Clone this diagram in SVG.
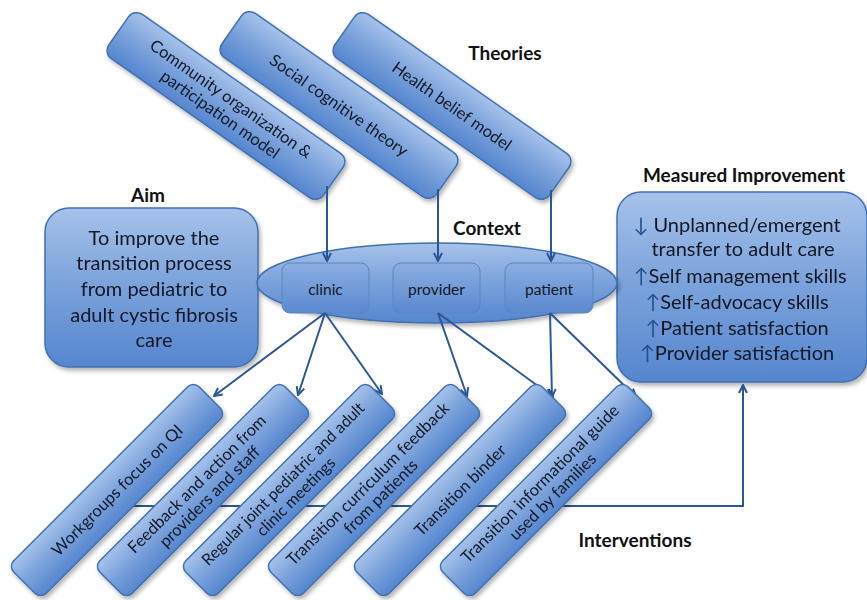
<svg xmlns="http://www.w3.org/2000/svg" width="867" height="600" viewBox="0 0 867 600">
<style>
.box{fill:url(#g);stroke:#4270b0;stroke-width:1.5}
.sub{fill:url(#g2);stroke:#5a86c2;stroke-width:1}
.t{font-family:Lato,"Liberation Sans",sans-serif;fill:#121826;text-anchor:middle}
.h{font-family:Lato,"Liberation Sans",sans-serif;font-weight:bold;fill:#111;text-anchor:middle;font-size:19px}
.c{fill:none;stroke:#2b5797;stroke-width:2}
.ar{fill:#24508e}
</style>
<defs>
<linearGradient id="g" x1="0" y1="0" x2="0" y2="1">
<stop offset="0" stop-color="#a6c2ea"/>
<stop offset="0.5" stop-color="#7aa1db"/>
<stop offset="1" stop-color="#5586cf"/>
</linearGradient>
<linearGradient id="g2" x1="0" y1="0" x2="0" y2="1">
<stop offset="0" stop-color="#8caee2"/>
<stop offset="1" stop-color="#5a89cf"/>
</linearGradient>
<filter id="sh" x="-20%" y="-20%" width="140%" height="140%">
<feDropShadow dx="2" dy="3" stdDeviation="2" flood-color="#000" flood-opacity="0.3"/>
</filter>
<marker id="a" viewBox="0 0 10 10" refX="9" refY="5" markerWidth="5" markerHeight="5" orient="auto">
<path d="M1,1 L9,5 L1,9" fill="none" stroke="#2b5797" stroke-width="2"/>
</marker>
</defs>
<rect width="867" height="600" fill="#fff"/>

<g id="theory-community" filter="url(#sh)">
<g transform="translate(226,106) rotate(35)">
<rect class="box" x="-131" y="-27" width="262" height="54" rx="10"/>
<text class="t" font-size="16.5" y="-3">Community organization &amp;</text>
<text class="t" font-size="16.5" y="16">participation model</text>
</g>
</g>
<g id="theory-social" filter="url(#sh)">
<g transform="translate(339,105) rotate(35)">
<rect class="box" x="-131" y="-27" width="262" height="54" rx="10"/>
<text class="t" font-size="16.5" y="6">Social cognitive theory</text>
</g>
</g>
<g id="theory-health" filter="url(#sh)">
<g transform="translate(452,106) rotate(35)">
<rect class="box" x="-131" y="-27" width="262" height="54" rx="10"/>
<text class="t" font-size="16.5" y="6">Health belief model</text>
</g>
</g>

<g id="aim" filter="url(#sh)">
<rect class="box" x="45" y="208" width="213" height="159" rx="24"/>
<text class="t" font-size="20" x="154" y="245">To improve the</text>
<text class="t" font-size="20" x="154" y="270">transition process</text>
<text class="t" font-size="20" x="154" y="296">from pediatric to</text>
<text class="t" font-size="20" x="154" y="322">adult cystic fibrosis</text>
<text class="t" font-size="20" x="154" y="347">care</text>
</g>

<g id="measured" filter="url(#sh)">
<rect class="box" x="617" y="192" width="250" height="190" rx="24"/>
<text class="t" font-size="20" x="737" y="232"><tspan class="ar">↓</tspan> Unplanned/emergent</text>
<text class="t" font-size="20" x="743" y="256">transfer to adult care</text>
<text class="t" font-size="20" x="740" y="283"><tspan class="ar">↑</tspan>Self management skills</text>
<text class="t" font-size="20" x="737" y="309"><tspan class="ar">↑</tspan>Self-advocacy skills</text>
<text class="t" font-size="20" x="737" y="335"><tspan class="ar">↑</tspan>Patient satisfaction</text>
<text class="t" font-size="20" x="737" y="360"><tspan class="ar">↑</tspan>Provider satisfaction</text>
</g>

<g id="context">
<ellipse class="box" cx="437" cy="283" rx="180" ry="40" filter="url(#sh)"/>
<g id="ctx-clinic">
<rect class="sub" x="282" y="263" width="87" height="50" rx="8"/>
<text class="t" font-size="15.5" x="325.5" y="295">clinic</text>
</g>
<g id="ctx-provider">
<rect class="sub" x="393" y="263" width="87" height="50" rx="8"/>
<text class="t" font-size="15.5" x="436.5" y="295">provider</text>
</g>
<g id="ctx-patient">
<rect class="sub" x="505" y="263" width="88" height="50" rx="8"/>
<text class="t" font-size="15.5" x="549" y="295">patient</text>
</g>
</g>

<g id="connectors">
<line class="c" x1="327" y1="186" x2="327" y2="261" marker-end="url(#a)"/>
<line class="c" x1="438" y1="189" x2="438" y2="261" marker-end="url(#a)"/>
<line class="c" x1="551" y1="190" x2="551" y2="261" marker-end="url(#a)"/>
<line class="c" x1="325" y1="313" x2="214" y2="396" marker-end="url(#a)"/>
<line class="c" x1="325" y1="313" x2="298" y2="395" marker-end="url(#a)"/>
<line class="c" x1="325" y1="313" x2="382" y2="394" marker-end="url(#a)"/>
<line class="c" x1="438" y1="313" x2="467" y2="396" marker-end="url(#a)"/>
<line class="c" x1="438" y1="313" x2="553" y2="397" marker-end="url(#a)"/>
<line class="c" x1="550" y1="313" x2="552" y2="397" marker-end="url(#a)"/>
<line class="c" x1="550" y1="313" x2="636" y2="397" marker-end="url(#a)"/>
<polyline class="c" points="117,506 743,506 743,385" marker-end="url(#a)"/>
</g>

<g id="int-workgroups" filter="url(#sh)">
<g transform="translate(117,490) rotate(-45)">
<rect class="box" x="-131" y="-23" width="262" height="46" rx="8"/>
<text class="t" font-size="16.5" y="6">Workgroups focus on QI</text>
</g>
</g>
<g id="int-feedback" filter="url(#sh)">
<g transform="translate(203,490) rotate(-45)">
<rect class="box" x="-131" y="-23" width="262" height="46" rx="8"/>
<text class="t" font-size="16.5" y="-3">Feedback and action from</text>
<text class="t" font-size="16.5" y="15">providers and staff</text>
</g>
</g>
<g id="int-regular" filter="url(#sh)">
<g transform="translate(289,490) rotate(-45)">
<rect class="box" x="-131" y="-23" width="262" height="46" rx="8"/>
<text class="t" font-size="16" y="-3">Regular joint pediatric and adult</text>
<text class="t" font-size="16" y="15">clinic meetings</text>
</g>
</g>
<g id="int-curriculum" filter="url(#sh)">
<g transform="translate(374,490) rotate(-45)">
<rect class="box" x="-131" y="-23" width="262" height="46" rx="8"/>
<text class="t" font-size="16.5" y="-3">Transition curriculum feedback</text>
<text class="t" font-size="16.5" y="15">from patients</text>
</g>
</g>
<g id="int-binder" filter="url(#sh)">
<g transform="translate(460,490) rotate(-45)">
<rect class="box" x="-131" y="-23" width="262" height="46" rx="8"/>
<text class="t" font-size="16.5" y="6">Transition binder</text>
</g>
</g>
<g id="int-guide" filter="url(#sh)">
<g transform="translate(546,490) rotate(-45)">
<rect class="box" x="-131" y="-23" width="262" height="46" rx="8"/>
<text class="t" font-size="16.5" y="-3">Transition informational guide</text>
<text class="t" font-size="16.5" y="15">used by families</text>
</g>
</g>

<g id="labels">
<text class="h" x="505" y="60" font-size="20">Theories</text>
<text class="h" x="148" y="202">Aim</text>
<text class="h" x="487" y="235">Context</text>
<text class="h" x="744" y="182" font-size="20">Measured Improvement</text>
<text class="h" x="635" y="547">Interventions</text>
</g>
</svg>
